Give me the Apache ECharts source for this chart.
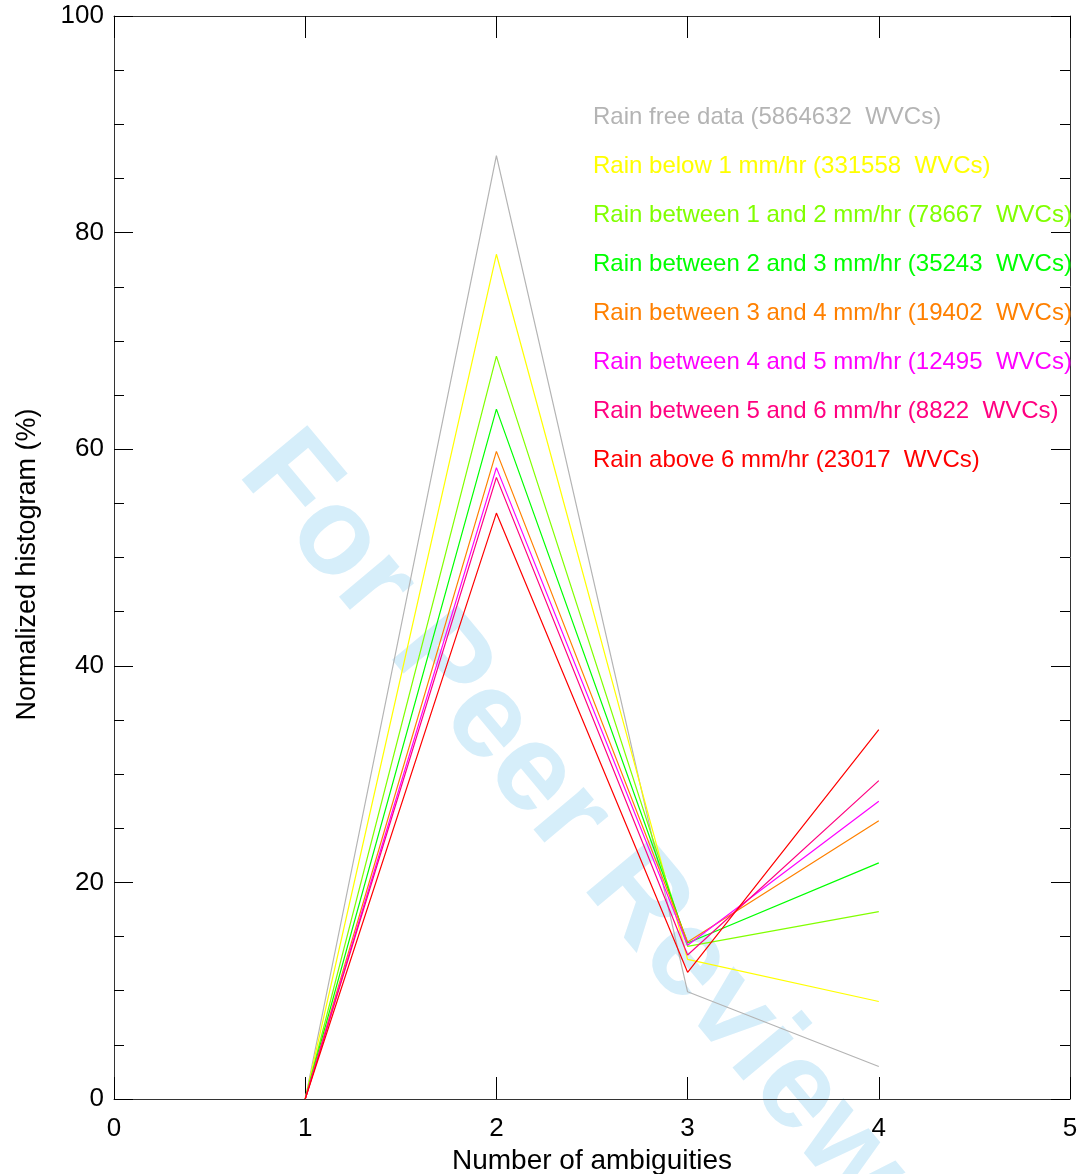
<!DOCTYPE html>
<html>
<head>
<meta charset="utf-8">
<script src="https://cdn.jsdelivr.net/npm/echarts@6/dist/echarts.min.js"></script>
<style>
  html, body { margin: 0; padding: 0; background: #fff; }
  #chart { width: 1081px; height: 1174px; }
</style>
</head>
<body>
<div id="chart"></div>
<script>
// number of ambiguities on the x axis
var ambiguities = [1, 2, 3, 4];

// normalized histogram (%) per rain class
var rainFree  = [0, 87.1,  9.9,  3.0];
var below1    = [0, 78.0, 12.9,  9.0];
var from1to2  = [0, 68.6, 14.1, 17.3];
var from2to3  = [0, 63.7, 14.4, 21.8];
var from3to4  = [0, 59.8, 14.5, 25.7];
var from4to5  = [0, 58.3, 14.2, 27.5];
var from5to6  = [0, 57.4, 13.3, 29.4];
var above6    = [0, 54.1, 11.7, 34.1];

var seriesNames = [
    'Rain free data (5864632  WVCs)',
    'Rain below 1 mm/hr (331558  WVCs)',
    'Rain between 1 and 2 mm/hr (78667  WVCs)',
    'Rain between 2 and 3 mm/hr (35243  WVCs)',
    'Rain between 3 and 4 mm/hr (19402  WVCs)',
    'Rain between 4 and 5 mm/hr (12495  WVCs)',
    'Rain between 5 and 6 mm/hr (8822  WVCs)',
    'Rain above 6 mm/hr (23017  WVCs)'
];
var seriesValues = [rainFree, below1, from1to2, from2to3, from3to4, from4to5, from5to6, above6];
var colors = ['#b4b4b4', '#ffff00', '#80ff00', '#00ff00', '#ff8000', '#ff00ff', '#ff0080', '#ff0000'];

var font = 'Liberation Sans';

var series = seriesNames.map(function (name, i) {
    return {
        name: name,
        type: 'line',
        xAxisIndex: 0,
        yAxisIndex: 0,
        symbol: 'none',
        color: colors[i],
        lineStyle: {color: colors[i], width: 1.2},
        data: ambiguities.map(function (a, j) { return [a, seriesValues[i][j]]; }),
        z: 3
    };
});

var tickX = {show: true, inside: true, length: 22, lineStyle: {color: '#000'}};
var tickY = {show: true, inside: true, length: 19, lineStyle: {color: '#000'}};
var minorY = {show: true, splitNumber: 4, length: 10, lineStyle: {color: '#000'}};
var axisLn = {show: true, onZero: false, lineStyle: {color: '#333', width: 1}};

var option = {
    animation: false,
    backgroundColor: '#fff',
    grid: {left: 114, right: 11, top: 16, bottom: 75, outerBoundsMode: 'none', containLabel: false},
    legend: {
        orient: 'vertical',
        left: 583,
        top: 100,
        itemWidth: 0,
        itemHeight: 0,
        itemGap: 25,
        selectedMode: false,
        icon: 'rect',
        textStyle: {fontFamily: font, fontSize: 24},
        data: seriesNames.map(function (name, i) {
            return {name: name, textStyle: {color: colors[i]}};
        })
    },
    graphic: [{
        type: 'text',
        x: 572,
        y: 822,
        rotation: -0.875,
        z: 0,
        silent: true,
        style: {
            text: 'For Peer Review',
            fontFamily: font,
            fontWeight: 'bold',
            fontSize: 124,
            fill: '#d6eefa',
            textAlign: 'center',
            textVerticalAlign: 'middle'
        }
    }],
    xAxis: [
        {
            type: 'value', min: 0, max: 5, interval: 1,
            name: 'Number of ambiguities',
            nameLocation: 'middle',
            nameGap: 37,
            nameTextStyle: {fontFamily: font, fontSize: 28, color: '#000'},
            axisLine: axisLn,
            axisTick: tickX,
            splitLine: {show: false},
            axisLabel: {fontFamily: font, fontSize: 26, color: '#000', margin: 17}
        },
        {
            type: 'value', min: 0, max: 5, interval: 1, position: 'top',
            axisLine: axisLn,
            axisTick: tickX,
            splitLine: {show: false},
            axisLabel: {show: false}
        }
    ],
    yAxis: [
        {
            type: 'value', min: 0, max: 100, interval: 20,
            name: 'Normalized histogram (%)',
            nameLocation: 'middle',
            nameGap: 73,
            nameTextStyle: {fontFamily: font, fontSize: 27, color: '#000', padding: [0, 14, 0, 0]},
            axisLine: axisLn,
            axisTick: tickY,
            minorTick: minorY,
            splitLine: {show: false},
            axisLabel: {fontFamily: font, fontSize: 26, color: '#000', margin: 10}
        },
        {
            type: 'value', min: 0, max: 100, interval: 20, position: 'right',
            axisLine: axisLn,
            axisTick: tickY,
            minorTick: minorY,
            splitLine: {show: false},
            axisLabel: {show: false}
        }
    ],
    series: series
};

var chart = echarts.init(document.getElementById('chart'));
chart.setOption(option);
</script>
</body>
</html>
